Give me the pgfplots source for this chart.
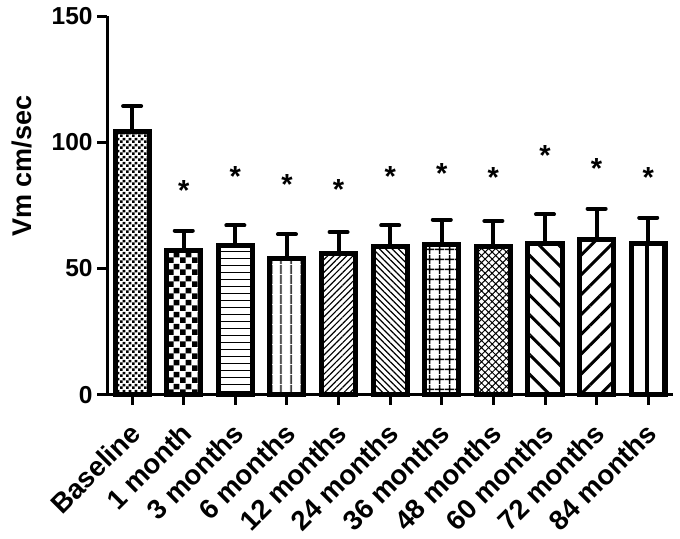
\documentclass[border=0pt]{standalone}
\usepackage{pgfplots}
\pgfplotsset{compat=1.18}
\usepackage{fontspec}
\setmainfont{Liberation Sans}
\usetikzlibrary{patterns,patterns.meta}

\tikzdeclarepattern{
  name=checkfine, type=uncolored,
  bounding box={(0,0) and (6bp,6bp)},
  tile size={(6bp,6bp)},
  code={\fill (0,0) rectangle (3bp,3bp); \fill (3bp,3bp) rectangle (6bp,6bp);}
}
\tikzdeclarepattern{
  name=checkcoarse, type=uncolored,
  bounding box={(0,0) and (12bp,12bp)},
  tile size={(12bp,12bp)},
  code={\fill (0,0) rectangle (6bp,6bp); \fill (6bp,6bp) rectangle (12bp,12bp);}
}

\pgfplotsset{
  mybar/.style={ybar, bar shift=0pt, bar width=34bp, draw=black, line width=5bp, fill=white},
}

\begin{document}
\begin{tikzpicture}
\begin{axis}[
  width=565bp, height=378bp, scale only axis,
  xmin=-0.484, xmax=10.48, ymin=0, ymax=150,
  axis lines*=left,
  axis line style={line width=3bp, black},
  ytick={0,50,100,150},
  xtick={0,...,10},
  xticklabels={Baseline,1 month,3 months,6 months,12 months,24 months,36 months,48 months,60 months,72 months,84 months},
  tick style={line width=3bp, black},
  major tick length=10bp,
  tick align=outside,
  /pgf/number format/assume math mode=true,
  yticklabel style={font=\fontsize{24.5bp}{28bp}\selectfont\bfseries, xshift=-1bp},
  xticklabel style={font=\fontsize{27.5bp}{30bp}\selectfont\bfseries, rotate=45, anchor=east, inner sep=2bp, xshift=-12.4bp, yshift=-18.9bp},
  ylabel={Vm cm/sec},
  ylabel style={font=\fontsize{27bp}{30bp}\selectfont\bfseries, at={(axis description cs:-0.150,0.603)}, anchor=center},
  error bars/y dir=plus, error bars/y explicit,
  error bars/error bar style={line width=4bp, black},
  error bars/error mark options={rotate=90, mark size=9bp, line width=4bp, line cap=round, black},
  clip=false,
]
\coordinate (bl) at (rel axis cs:0,0);
\coordinate (tr) at (rel axis cs:1,1);
\addplot[mybar, pattern=checkfine] coordinates {(0,104.1) +- (0,10.2)};
\addplot[mybar, pattern=checkcoarse] coordinates {(1,56.9) +- (0,8.1)};
\addplot[mybar, pattern={Lines[angle=0,distance=7bp,line width=1.2bp]}] coordinates {(2,58.9) +- (0,8.1)};
\addplot[mybar, pattern={Lines[angle=90,distance=10bp,line width=1.5bp]}] coordinates {(3,53.8) +- (0,9.7)};
\addplot[mybar, pattern={Lines[angle=45,distance=4.5bp,line width=1.2bp]}] coordinates {(4,55.8) +- (0,8.6)};
\addplot[mybar, pattern={Lines[angle=-45,distance=4.5bp,line width=1.2bp]}] coordinates {(5,58.7) +- (0,8.3)};
\addplot[mybar, pattern={Hatch[angle=0,distance=10bp,line width=1.5bp]}] coordinates {(6,59.5) +- (0,9.8)};
\addplot[mybar, pattern={Hatch[angle=45,distance=5bp,line width=1bp]}] coordinates {(7,58.7) +- (0,10.1)};
\addplot[mybar, pattern={Lines[angle=-45,distance=14bp,line width=3bp]}] coordinates {(8,60.0) +- (0,11.4)};
\addplot[mybar, pattern={Lines[angle=45,distance=14bp,line width=3bp]}] coordinates {(9,61.4) +- (0,12.3)};
\addplot[mybar, pattern={Lines[angle=90,distance=17bp,line width=3.5bp]}] coordinates {(10,59.8) +- (0,10.3)};
\addplot[only marks, mark=none, error bars/y dir=none,
  nodes near coords={*},
  every node near coord/.append style={anchor=base, inner sep=0pt, yshift=-17bp, font=\fontsize{29bp}{30bp}\selectfont\bfseries}]
  coordinates {(1,83.5) (2,89.3) (3,86.0) (4,83.9) (5,89.2) (6,90.5) (7,88.9) (8,97.5) (9,92.5) (10,88.9)};
\end{axis}
\pgfresetboundingbox
\path[use as bounding box] ([shift={(-107bp,-144bp)}]bl) rectangle ([shift={(7bp,16bp)}]tr);
\end{tikzpicture}
\end{document}
